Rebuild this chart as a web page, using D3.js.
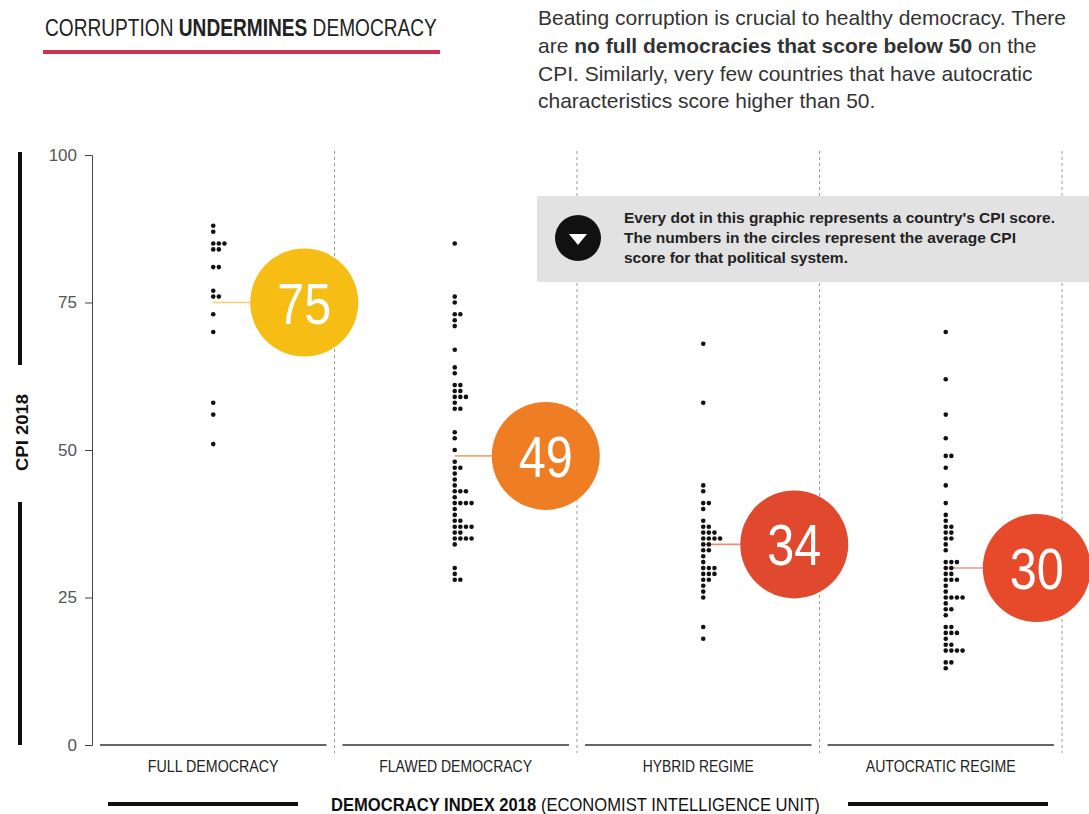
<!DOCTYPE html>
<html>
<head>
<meta charset="utf-8">
<script src="https://cdn.jsdelivr.net/npm/d3@7"></script>
<style>
  body { margin: 0; background: #fff; }
  svg { display: block; }
</style>
</head>
<body>
<svg id="chart" width="1089" height="814"></svg>
<script>
// CPI 2018 scores grouped by Democracy Index 2018 category
const categories = ["FULL DEMOCRACY", "FLAWED DEMOCRACY", "HYBRID REGIME", "AUTOCRATIC REGIME"];
const fullDemocracy = [88, 87, 85, 85, 85, 84, 84, 81, 81, 77, 76, 76, 73, 70, 58, 56, 51];
const flawedDemocracy = [85, 76, 75, 73, 73, 72, 71, 67, 64, 63, 61, 61, 60, 60, 59, 59, 59, 58, 57, 57,
  53, 52, 50, 48, 47, 47, 46, 45, 44, 43, 43, 43, 42, 41, 41, 41, 41, 40, 39, 38, 38,
  37, 37, 37, 37, 36, 36, 35, 35, 35, 35, 34, 30, 29, 28, 28];
const hybridRegime = [68, 58, 44, 43, 41, 41, 40, 38, 37, 37, 36, 36, 36, 35, 35, 35, 35, 34, 34, 33, 33,
  32, 31, 30, 30, 30, 29, 29, 29, 28, 28, 27, 26, 25, 20, 18];
const autocraticRegime = [70, 62, 56, 52, 49, 49, 47, 44, 41, 39, 38, 37, 37, 36, 36, 35, 35, 34, 33,
  31, 31, 31, 30, 30, 29, 29, 28, 28, 28, 27, 26, 25, 25, 25, 25, 24, 23, 23, 22, 20, 20,
  19, 19, 19, 18, 17, 17, 16, 16, 16, 16, 14, 14, 13];
const averages = [75, 49, 34, 30];
const yTicks = [0, 25, 50, 75, 100];

const series = [fullDemocracy, flawedDemocracy, hybridRegime, autocraticRegime];
const circleColors = ["#f6bd14", "#ee7d23", "#e1492f", "#e74a2b"];
const lineColors = ["#f2cf72", "#eeaa72", "#e98a78", "#e2978a"];
const colShift = [0, -1, 5, 5];          // dot columns are not exactly centred
const labelWidths = [131, 153, 111, 150]; // condensed look of the original type

const sans = "'Liberation Sans',Arial,Helvetica,sans-serif";

const svg = d3.select("#chart");

const margin = { top: 155, right: 27, bottom: 69, left: 92 };
const width = +svg.attr("width");
const height = +svg.attr("height");

const y = d3.scaleLinear().domain([0, 100]).range([height - margin.bottom, margin.top]);
const x = d3.scaleBand().domain(categories).range([margin.left, width - margin.right]);
const bw = x.bandwidth();

// squeeze a text (drawn at 0,0) to a condensed width, left edge at px
function condense(sel, px, py, w, rotate) {
  const nat = sel.node().getComputedTextLength();
  const s = w / nat;
  sel.attr("x", 0).attr("y", 0)
    .attr("transform", `translate(${px},${py})${rotate ? " rotate(-90)" : ""} scale(${s},1)`);
  return sel;
}

// Заголовок
const title = svg.append("text")
  .attr("font-family", sans).attr("font-size", 24).attr("fill", "#222");
title.append("tspan").text("CORRUPTION ");
title.append("tspan").attr("font-weight", "bold").text("UNDERMINES");
title.append("tspan").text(" DEMOCRACY");
condense(title, 45, 36, 392);

svg.append("rect")
  .attr("x", 43).attr("y", 50).attr("width", 397).attr("height", 4)
  .attr("fill", "#d0334f");

// Intro paragraph
const intro = svg.append("text")
  .attr("font-family", sans).attr("font-size", 21).attr("fill", "#333");
intro.append("tspan").attr("x", 538).attr("y", 25)
  .text("Beating corruption is crucial to healthy democracy. There");
const l2 = intro.append("tspan").attr("x", 538).attr("y", 53);
l2.append("tspan").text("are ");
l2.append("tspan").attr("font-weight", "bold").text("no full democracies that score below 50");
l2.append("tspan").text(" on the");
intro.append("tspan").attr("x", 538).attr("y", 81)
  .text("CPI. Similarly, very few countries that have autocratic");
intro.append("tspan").attr("x", 538).attr("y", 108)
  .text("characteristics score higher than 50.");

// Separators between categories
svg.append("g")
  .selectAll("line")
  .data(categories)
  .join("line")
  .attr("x1", d => x(d) + bw)
  .attr("x2", d => x(d) + bw)
  .attr("y1", y(100) - 4)
  .attr("y2", y(0) + 8)
  .attr("stroke", "#9a9a9a")
  .attr("stroke-width", 1)
  .attr("stroke-dasharray", "3,3");

// Y axis
const yAxis = svg.append("g")
  .attr("transform", `translate(${margin.left},0)`)
  .call(d3.axisLeft(y).tickValues(yTicks).tickSize(7).tickPadding(8));
yAxis.select(".domain").attr("stroke", "#444");
yAxis.selectAll(".tick line").attr("stroke", "#444");
yAxis.selectAll("text")
  .attr("font-family", sans).attr("font-size", 17).attr("fill", "#555");

// Baselines per category
svg.append("g")
  .selectAll("line")
  .data(categories)
  .join("line")
  .attr("x1", d => x(d) + 8)
  .attr("x2", d => x(d) + bw - 8)
  .attr("y1", y(0)).attr("y2", y(0))
  .attr("stroke", "#333").attr("stroke-width", 1.3);

// Category labels
svg.append("g")
  .selectAll("text")
  .data(categories)
  .join("text")
  .attr("font-family", sans).attr("font-size", 16.5).attr("fill", "#222")
  .text(d => d)
  .each(function(d, i) {
    condense(d3.select(this), x(d) + bw / 2 - labelWidths[i] / 2, y(0) + 27, labelWidths[i]);
  });

// Dot columns
const dotGap = 5.6;

categories.forEach((cat, i) => {
  const cx = x(cat) + bw / 2 + colShift[i];
  const cy = y(averages[i]);
  const bx = cx + 91;
  const r = 54;

  svg.append("line")
    .attr("x1", cx).attr("x2", bx - r)
    .attr("y1", cy).attr("y2", cy)
    .attr("stroke", lineColors[i]).attr("stroke-width", 1.6);

  const counts = new Map();
  const dots = series[i].map(v => {
    const k = counts.get(v) || 0;
    counts.set(v, k + 1);
    return { v, k };
  });

  svg.append("g")
    .selectAll("circle")
    .data(dots)
    .join("circle")
    .attr("cx", d => cx + d.k * dotGap)
    .attr("cy", d => y(d.v))
    .attr("r", 2.3)
    .attr("fill", "#111");

  svg.append("circle")
    .attr("cx", bx).attr("cy", cy).attr("r", r)
    .attr("fill", circleColors[i]);

  const num = svg.append("text")
    .attr("font-family", sans).attr("font-size", 57).attr("fill", "#fff")
    .text(averages[i]);
  condense(num, bx - 27, cy + 21, 54);
});

// Annotation box
svg.append("rect")
  .attr("x", 537).attr("y", 196).attr("width", width - 537).attr("height", 86)
  .attr("fill", "#e2e2e2");
svg.append("circle").attr("cx", 578).attr("cy", 238).attr("r", 23).attr("fill", "#111");
svg.append("path")
  .attr("d", "M569,234 L587,234 L578,245 Z")
  .attr("fill", "#fff");
const note = svg.append("text")
  .attr("font-family", sans).attr("font-size", 15.5).attr("font-weight", "bold").attr("fill", "#222");
["Every dot in this graphic represents a country's CPI score.",
 "The numbers in the circles represent the average CPI",
 "score for that political system."].forEach((t, i) => {
  note.append("tspan").attr("x", 624).attr("y", 223 + i * 20).text(t);
});

// Y label with bars
svg.append("rect").attr("x", 18).attr("y", 152).attr("width", 4).attr("height", 213).attr("fill", "#111");
svg.append("rect").attr("x", 18).attr("y", 502).attr("width", 4).attr("height", 243).attr("fill", "#111");
const yl = svg.append("text")
  .attr("font-family", sans).attr("font-size", 17).attr("font-weight", "bold").attr("fill", "#111")
  .text("CPI 2018");
condense(yl, 28, 471, 77, true);

// X label with bars
svg.append("rect").attr("x", 108).attr("y", 802).attr("width", 190).attr("height", 4).attr("fill", "#111");
svg.append("rect").attr("x", 848).attr("y", 802).attr("width", 200).attr("height", 4).attr("fill", "#111");
const xl = svg.append("text")
  .attr("font-family", sans).attr("font-size", 17.5).attr("fill", "#111");
xl.append("tspan").attr("font-weight", "bold").text("DEMOCRACY INDEX 2018");
xl.append("tspan").text(" (ECONOMIST INTELLIGENCE UNIT)");
condense(xl, 331, 811, 489);
</script>
</body>
</html>
